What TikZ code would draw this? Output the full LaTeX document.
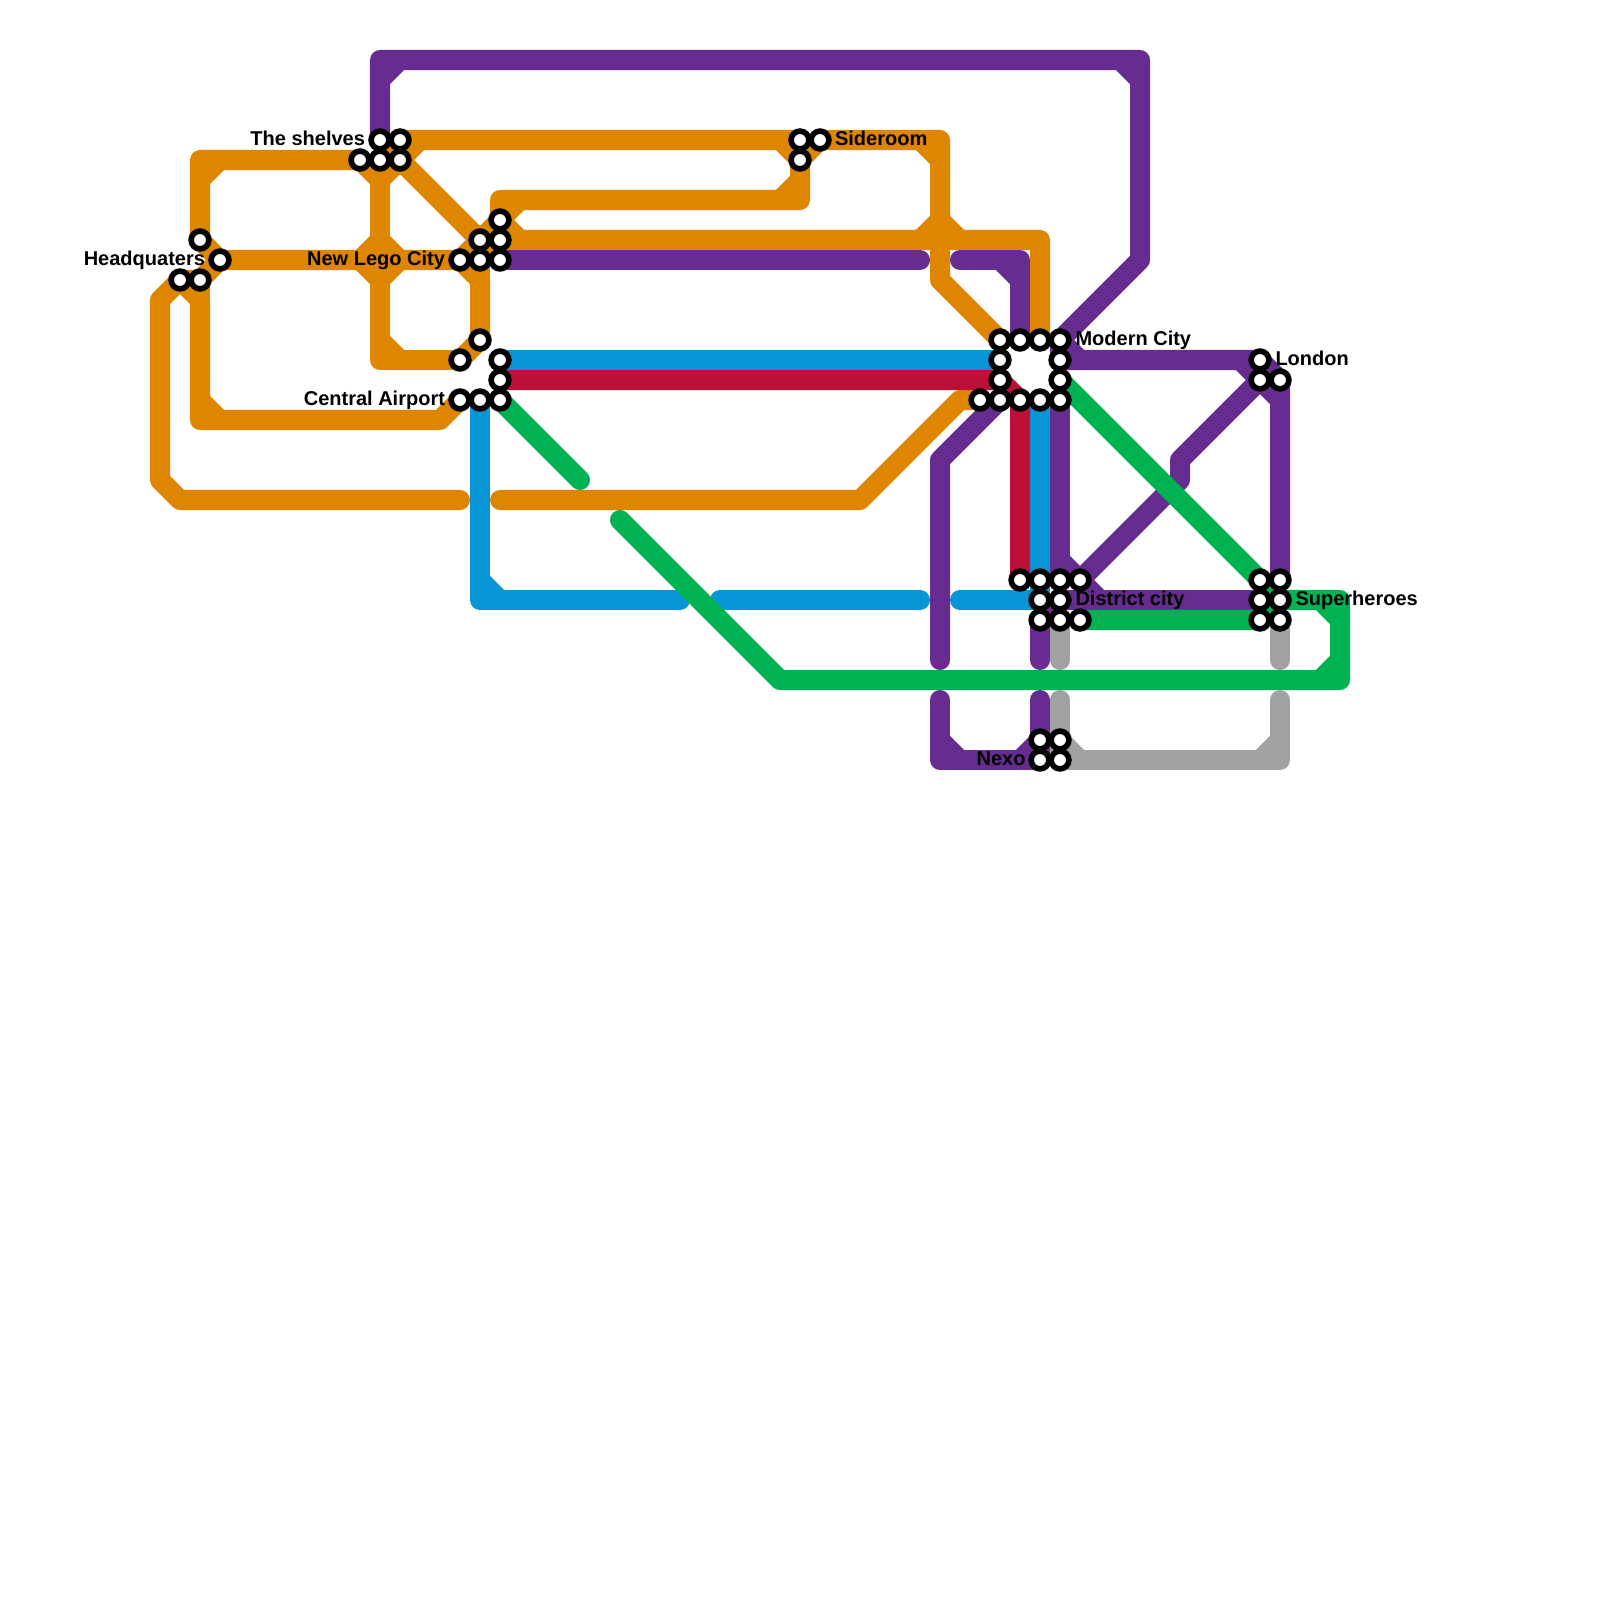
\documentclass[tikz,border=0pt]{standalone}
\usepackage{fontspec}
\setmainfont{Liberation Sans}
\usetikzlibrary{backgrounds}
\definecolor{mOrange}{HTML}{DF8600}
\definecolor{mPurple}{HTML}{662C90}
\definecolor{mBlue}{HTML}{0896D7}
\definecolor{mRed}{HTML}{BD1038}
\definecolor{mGreen}{HTML}{00B251}
\definecolor{mGray}{HTML}{A2A2A2}
\tikzset{
  route/.style={line width=2mm,line cap=round,line join=round},
  orange line/.style={route,draw=mOrange},
  purple line/.style={route,draw=mPurple},
  blue line/.style={route,draw=mBlue},
  red line/.style={route,draw=mRed},
  green line/.style={route,draw=mGreen},
  gray line/.style={route,draw=mGray},
  stop/.style={circle,draw=black,fill=white,line width=0.56mm,minimum size=1.78mm,inner sep=0pt,outer sep=0pt},
  stoplabel/.style={inner sep=0pt,outer sep=0pt,text=black,font=\fontsize{5.69}{6.5}\selectfont\bfseries}
}
\begin{document}
\begin{tikzpicture}[x=0.01cm,y=-0.01cm]
\useasboundingbox (0,0) rectangle (1600,1600);
% stations
\foreach \x/\y in {380/140,400/140,360/160,380/160,400/160,
  200/240,220/260,180/280,200/280,
  500/220,480/240,500/240,460/260,480/260,500/260,
  480/340,460/360,500/360,500/380,460/400,480/400,500/400,
  800/140,820/140,800/160,
  1000/340,1020/340,1040/340,1060/340,1000/360,1060/360,1000/380,1060/380,
  980/400,1000/400,1020/400,1040/400,1060/400,
  1020/580,1040/580,1060/580,1080/580,1040/600,1060/600,1040/620,1060/620,1080/620,
  1040/740,1060/740,1040/760,1060/760,
  1260/360,1260/380,1280/380,
  1260/580,1280/580,1260/600,1280/600,1260/620,1280/620}
  {\node[stop] (s\x-\y) at (\x,\y) {};}
% labels
\node[stoplabel,anchor=base east] (lShelves) at (365,145.5) {The shelves};
\node[stoplabel,anchor=base east] (lHQ) at (205,265.5) {Headquaters};
\node[stoplabel,anchor=base east] (lLego) at (445,265.5) {New Lego City};
\node[stoplabel,anchor=base east] (lAirport) at (445,405.5) {Central Airport};
\node[stoplabel,anchor=base west] (lSide) at (835,145.5) {Sideroom};
\node[stoplabel,anchor=base west] (lModern) at (1075.5,345.5) {Modern City};
\node[stoplabel,anchor=base west] (lLondon) at (1275.5,365.5) {London};
\node[stoplabel,anchor=base west] (lDistrict) at (1075.5,605.5) {District city};
\node[stoplabel,anchor=base west] (lSuper) at (1295.5,605.5) {Superheroes};
\node[stoplabel,anchor=base east] (lNexo) at (1025.5,765.5) {Nexo};
\begin{pgfonlayer}{background}
\fill[white] (0,0) rectangle (1600,1600);
% orange
\draw[orange line] (460,500) -- (180,500) -- (160,480) -- (160,300) -- (s180-280.center) -- (200,300) -- (200,420) -- (440,420) -- (s460-400.center);
\draw[orange line] (s200-280.center) -- (200,300);
\draw[orange line] (200,400) -- (220,420);
\draw[orange line] (s180-280.center) -- (s200-280.center) -- (s220-260.center) -- (s460-260.center);
\draw[orange line] (s200-240.center) -- (s220-260.center);
\draw[orange line] (s200-240.center) -- (200,160) -- (s360-160.center) -- (380,180) -- (s400-160.center);
\draw[orange line] (200,180) -- (220,160);
\draw[orange line] (s380-160.center) -- (380,360) -- (s460-360.center);
\draw[orange line] (380,340) -- (400,360);
\draw[orange line] (380,240) -- (360,260) -- (380,280) -- (400,260) -- cycle;
\draw[orange line] (s380-160.center) -- (s400-140.center) -- (s800-140.center) -- (s800-160.center) -- (800,200) -- (500,200) -- (s500-220.center);
\draw[orange line] (s400-160.center) -- (420,140);
\draw[orange line] (s400-160.center) -- (s480-240.center) -- (s500-220.center) -- (520,200);
\draw[orange line] (s460-260.center) -- (s480-240.center);
\draw[orange line] (s480-260.center) -- (s500-240.center);
\draw[orange line] (780,140) -- (s800-160.center) -- (s820-140.center);
\draw[orange line] (800,180) -- (780,200);
\draw[orange line] (s500-220.center) -- (520,240) -- (1040,240) -- (s1040-340.center);
\draw[orange line] (s500-240.center) -- (520,240);
\draw[orange line] (s460-260.center) -- (480,280) -- (s480-340.center) -- (s460-360.center);
\draw[orange line] (s480-260.center) -- (480,280);
\draw[orange line] (s820-140.center) -- (940,140) -- (940,280) -- (s1000-340.center);
\draw[orange line] (920,140) -- (940,160);
\draw[orange line] (920,240) -- (940,220) -- (960,240);
\draw[orange line] (500,500) -- (860,500) -- (960,400) -- (s980-400.center);
% purple
\draw[purple line] (s380-140.center) -- (380,60) -- (1140,60) -- (1140,260) -- (s1060-340.center) -- (1080,360);
\draw[purple line] (380,80) -- (400,60);
\draw[purple line] (1120,60) -- (1140,80);
\draw[purple line] (s500-260.center) -- (920,260);
\draw[purple line] (960,260) -- (1020,260) -- (s1020-340.center);
\draw[purple line] (1000,260) -- (1020,280);
\draw[purple line] (s1060-340.center) -- (s1060-360.center) -- (s1260-360.center) -- (s1280-380.center) -- (s1280-580.center);
\draw[purple line] (1240,360) -- (s1260-380.center) -- (1280,400);
\draw[purple line] (s1260-380.center) -- (1180,460) -- (1180,480) -- (s1080-580.center) -- (1100,600);
\draw[purple line] (1060,560) -- (s1080-580.center);
\draw[purple line] (s1060-400.center) -- (s1060-580.center);
\draw[purple line] (s1060-600.center) -- (s1260-600.center);
\draw[purple line] (s1060-600.center) -- (s1040-620.center) -- (1040,660);
\draw[purple line] (1040,700) -- (s1040-740.center) -- (s1040-760.center) -- (940,760) -- (940,700);
\draw[purple line] (940,740) -- (960,760);
\draw[purple line] (s1040-740.center) -- (1020,760);
\draw[purple line] (940,660) -- (940,460) -- (s1000-400.center);
% blue
\draw[blue line] (s500-360.center) -- (s1000-360.center);
\draw[blue line] (s480-400.center) -- (480,600) -- (680,600);
\draw[blue line] (480,580) -- (500,600);
\draw[blue line] (720,600) -- (920,600);
\draw[blue line] (960,600) -- (s1040-600.center) -- (s1040-400.center);
% red
\draw[red line] (s500-380.center) -- (s1000-380.center) -- (s1020-400.center) -- (s1020-580.center);
% green
\draw[green line] (s500-400.center) -- (580,480);
\draw[green line] (s1060-380.center) -- (s1260-580.center) -- (s1280-600.center) -- (1340,600) -- (1340,680) -- (780,680) -- (620,520);
\draw[green line] (1320,600) -- (1340,620);
\draw[green line] (1340,660) -- (1320,680);
\draw[green line] (s1080-620.center) -- (s1260-620.center) -- (s1280-600.center);
% gray
\draw[gray line] (s1060-620.center) -- (1060,660);
\draw[gray line] (1060,700) -- (s1060-760.center) -- (1280,760) -- (1280,700);
\draw[gray line] (s1060-740.center) -- (1080,760);
\draw[gray line] (1260,760) -- (1280,740);
\draw[gray line] (s1280-620.center) -- (1280,660);
\end{pgfonlayer}
\end{tikzpicture}
\end{document}
